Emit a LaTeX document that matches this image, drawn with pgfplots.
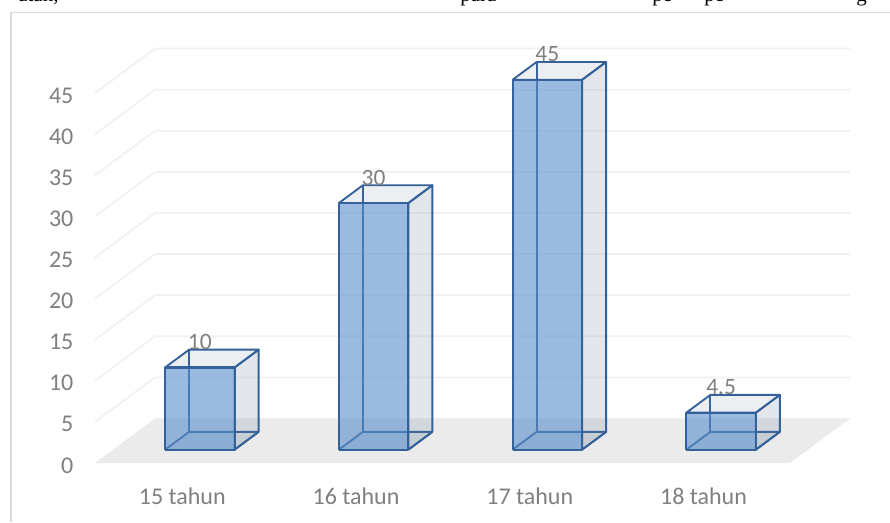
\documentclass[border=0pt]{standalone}
\usepackage{fontspec}
\setmainfont{Carlito}
\newfontfamily\serifbody{Liberation Serif}
\usepackage{pgfplots}
\pgfplotsset{compat=1.18}
\definecolor{gridc}{HTML}{F1F1F1}
\definecolor{floorc}{HTML}{EBEBEB}
\definecolor{framec}{HTML}{D9D9D9}
\definecolor{labelc}{HTML}{808080}
\definecolor{edgec}{HTML}{34619A}
\definecolor{frontc}{HTML}{588ECB}
\definecolor{sidec}{RGB}{100,125,150}
% one translucent box: x0, x1, value
\newcommand{\barbox}[3]{%
  % hidden edges, seen through the faces
  \addplot3[no marks,draw=edgec,line width=1.4pt,line join=round]
    coordinates {(#1,0.3,0)(#1,0.7,0)(#2,0.7,0)(#2,0.3,0)};
  \addplot3[no marks,draw=edgec,line width=1.4pt]
    coordinates {(#1,0.7,0)(#1,0.7,#3)};
  % bottom, right and top faces
  \addplot3[no marks,draw=none,fill=sidec,fill opacity=0.10]
    coordinates {(#1,0.3,0)(#2,0.3,0)(#2,0.7,0)(#1,0.7,0)};
  \addplot3[no marks,draw=edgec,line width=1.4pt,fill=sidec,fill opacity=0.18,line join=round]
    coordinates {(#2,0.3,0)(#2,0.7,0)(#2,0.7,#3)(#2,0.3,#3)(#2,0.3,0)};
  \addplot3[no marks,draw=edgec,line width=1.4pt,fill=sidec,fill opacity=0.12,line join=round]
    coordinates {(#1,0.3,#3)(#1,0.7,#3)(#2,0.7,#3)(#2,0.3,#3)(#1,0.3,#3)};
  % front face
  \addplot3[no marks,draw=edgec,line width=1.6pt,fill=frontc,fill opacity=0.6,line join=round]
    coordinates {(#1,0.3,0)(#2,0.3,0)(#2,0.3,#3)(#1,0.3,#3)(#1,0.3,0)};
}
\begin{document}
\begin{tikzpicture}[x=0.75pt,y=0.75pt]
\path[use as bounding box,fill=white] (-95,-59) rectangle (795,463);
% frame of the embedded chart
\draw[framec,line width=1.1pt] (-84,-59) -- (-84,450.5) -- (795,450.5);
% text line cut off by the picture's upper edge
\begin{scope}
\clip (-95,-59) rectangle (795,463);
\foreach \px/\word in {18/{atan,},460/para,652/pe,704/pe,856/g}{
  \node[anchor=base west,inner sep=0pt,font=\serifbody\fontsize{15.75}{18}\selectfont,text=black]
    at (\px-95,461.8) {\word};
}
\end{scope}
\begin{axis}[
  at={(0,0)},anchor=origin,
  disabledatascaling,
  x={(130.3125pt,0pt)},y={(45pt,33.375pt)},z={(0pt,6.165pt)},
  xmin=0,xmax=4,ymin=0,ymax=1,zmin=0,zmax=45,
  clip=false,
  axis lines=left,
  axis line style={draw=none},
  tick style={draw=none},
  xtick={0.5,1.5,2.5,3.5},
  xticklabels={15 tahun,16 tahun,17 tahun,18 tahun},
  ytick=\empty,
  ztick={0,5,...,45},
  /pgf/number format/assume math mode=true,
  tick label style={font=\fontsize{18}{20}\selectfont,text=labelc},
  x tick label style={anchor=center,yshift=-23.6pt,xshift=2pt},
  z tick label style={anchor=east,xshift=-11pt,yshift=-0.5pt},
  nodes near coords style={font=\fontsize{17.6}{20}\selectfont,text=labelc,anchor=center},
]
% floor
\addplot3[no marks,draw=none,fill=floorc]
  coordinates {(0,0,0)(4,0,0)(4,1,0)(0,1,0)};
\addplot3[no marks,draw=gridc,line width=1.3pt] coordinates {(0,1,0)(4,1,0)};
% grid lines on the two walls
\addplot3[no marks,draw=gridc,line width=1.3pt] coordinates {(0,0,5)(0,1,5)(4,1,5)};
\addplot3[no marks,draw=gridc,line width=1.3pt] coordinates {(0,0,10)(0,1,10)(4,1,10)};
\addplot3[no marks,draw=gridc,line width=1.3pt] coordinates {(0,0,15)(0,1,15)(4,1,15)};
\addplot3[no marks,draw=gridc,line width=1.3pt] coordinates {(0,0,20)(0,1,20)(4,1,20)};
\addplot3[no marks,draw=gridc,line width=1.3pt] coordinates {(0,0,25)(0,1,25)(4,1,25)};
\addplot3[no marks,draw=gridc,line width=1.3pt] coordinates {(0,0,30)(0,1,30)(4,1,30)};
\addplot3[no marks,draw=gridc,line width=1.3pt] coordinates {(0,0,35)(0,1,35)(4,1,35)};
\addplot3[no marks,draw=gridc,line width=1.3pt] coordinates {(0,0,40)(0,1,40)(4,1,40)};
\addplot3[no marks,draw=gridc,line width=1.3pt] coordinates {(0,0,45)(0,1,45)(4,1,45)};
% the four boxes
\barbox{0.3}{0.7}{10}
\barbox{1.3}{1.7}{30}
\barbox{2.3}{2.7}{45}
\barbox{3.3}{3.7}{4.5}
% data labels
\addplot3[only marks,mark=none,point meta=z,nodes near coords,
  nodes near coords style={yshift=19pt}]
  coordinates {(0.5,0.3,10)(1.5,0.3,30)(2.5,0.3,45)(3.5,0.3,4.5)};
\end{axis}
\end{tikzpicture}
\end{document}
